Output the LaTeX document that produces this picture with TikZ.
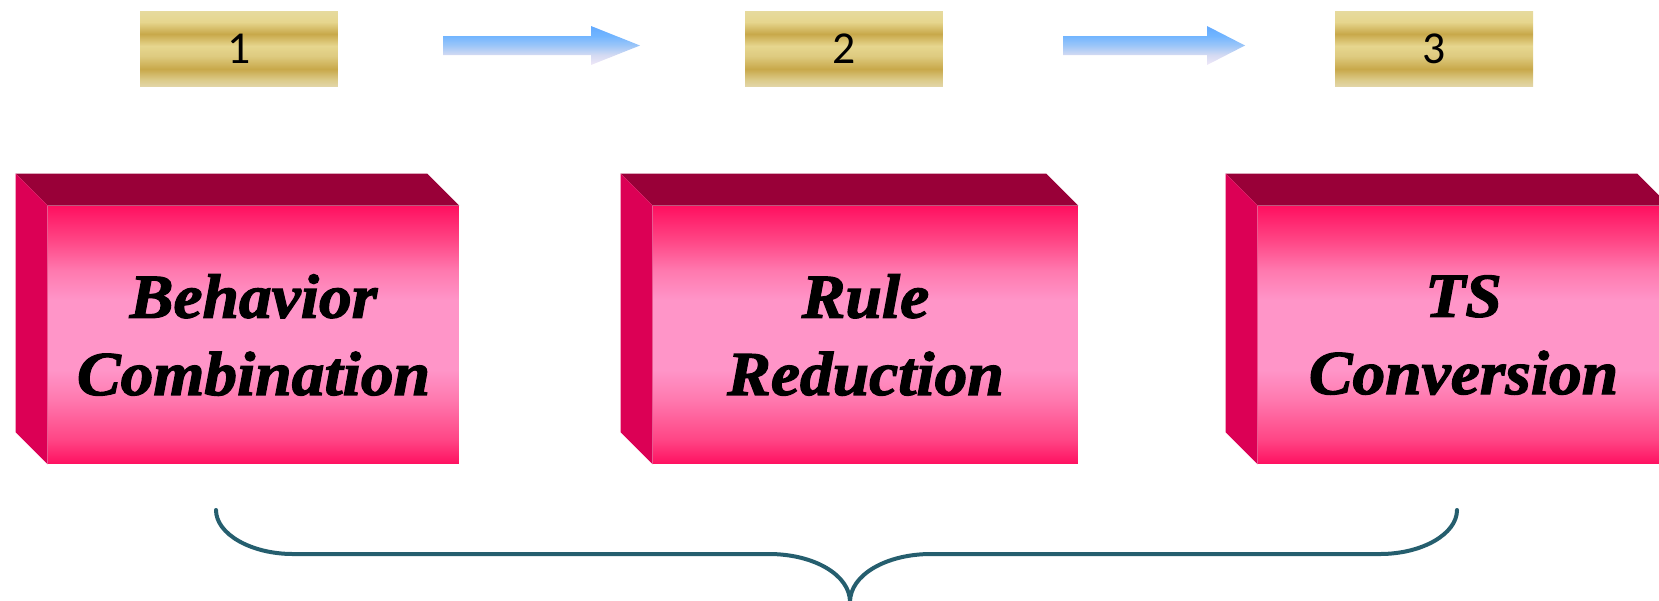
\documentclass[tikz,border=0pt]{standalone}
\usepackage{fontspec}
\usepackage{xcolor}
\usetikzlibrary{positioning}

\newfontfamily\boxfont[FakeStretch=1.05, FakeBold=2]{Liberation Serif}
\newfontfamily\numfont{Carlito}

\definecolor{faceedge}{HTML}{FF1060}
\definecolor{facea}{HTML}{FF4585}
\definecolor{faceb}{HTML}{FF78AE}
\definecolor{facemid}{HTML}{FF95C8}
\definecolor{topface}{HTML}{990038}
\definecolor{sideface}{HTML}{DC0055}
\definecolor{gold0}{HTML}{E2D5A6}
\definecolor{gold1}{HTML}{DCCB8A}
\definecolor{golddark}{HTML}{C8A84A}
\definecolor{gold2}{HTML}{DECB80}
\definecolor{goldlight}{HTML}{E6D68E}
\definecolor{gold3}{HTML}{E6DA9E}
\definecolor{arrowhead}{HTML}{62AAFF}
\definecolor{arrowtop}{HTML}{72B5FF}
\definecolor{arrowc}{HTML}{9CC6F8}
\definecolor{arrowb}{HTML}{D4DAF2}
\definecolor{arrowlow}{HTML}{F0E8F8}
\definecolor{bracecol}{HTML}{255E6E}

\pgfdeclareverticalshading{pinkface}{100bp}{color(0bp)=(faceedge); color(25bp)=(faceedge); color(29.7bp)=(facea); color(37.4bp)=(faceb); color(43.2bp)=(facemid); color(56.8bp)=(facemid); color(62.6bp)=(faceb); color(68.4bp)=(facea); color(75bp)=(faceedge); color(100bp)=(faceedge)}
\pgfdeclareverticalshading{goldband}{100bp}{color(0bp)=(gold0); color(25bp)=(gold0); color(29bp)=(gold1); color(36.3bp)=(golddark); color(45bp)=(gold2); color(51.7bp)=(goldlight); color(59.7bp)=(golddark); color(67.7bp)=(goldlight); color(75bp)=(gold3); color(100bp)=(gold3)}
\pgfdeclareverticalshading{bluearrow}{100bp}{color(0bp)=(arrowlow); color(25bp)=(arrowlow); color(37.8bp)=(arrowb); color(50bp)=(arrowc); color(62.2bp)=(arrowtop); color(75bp)=(arrowhead); color(100bp)=(arrowhead)}

\tikzset{
	face/.style={rectangle, inner sep=0pt, shade, shading=pinkface, minimum height=5.16cm, align=center, font=\boxfont\bfseries\itshape\fontsize{35.5}{44}\selectfont},
	goldbox/.style={rectangle, inner sep=0pt, shade, shading=goldband, minimum width=3.96cm, minimum height=1.5cm, font=\numfont\fontsize{26}{30}\selectfont},
	blockarrow/.style={shade, shading=bluearrow},
	brace/.style={draw=bracecol, line width=0.08cm, line cap=round}
}

\begin{document}
\begin{tikzpicture}[x=0.02cm, y=-0.02cm]
	\useasboundingbox (0,0) rectangle (1659,600);
	\clip (0,0) rectangle (1659,600);

	% step numbers
	\node[goldbox] (n1) at (239,48.5) {1};
	\node[goldbox] (n2) at (844,48.5) {2};
	\node[goldbox] (n3) at (1434,48.5) {3};

	\path[blockarrow] (443,36) -- (591,36) -- (591,26) -- (640,45.5) -- (591,65) -- (591,55) -- (443,55) -- cycle;
	\path[blockarrow] (1063,36) -- (1207,36) -- (1207,26) -- (1245,45.5) -- (1207,65) -- (1207,55) -- (1063,55) -- cycle;

	% front faces of the blocks
	\node[face, minimum width=8.22cm] (f1) at (253.5,335) {Behavior\\Combination};
	\node[face, minimum width=8.5cm] (f2) at (865.5,335) {Rule\\Reduction};
	\node[face, minimum width=8.22cm] (f3) at (1463.5,335) {TS\\Conversion};

	\fill[topface] (f1.north west) -- ++(-32,-32) -- ([shift={(-32,-32)}]f1.north east) -- (f1.north east) -- cycle;
	\fill[sideface] (f1.north west) -- ++(-32,-32) -- ([shift={(-32,-32)}]f1.south west) -- (f1.south west) -- cycle;
	\fill[topface] (f2.north west) -- ++(-32,-32) -- ([shift={(-32,-32)}]f2.north east) -- (f2.north east) -- cycle;
	\fill[sideface] (f2.north west) -- ++(-32,-32) -- ([shift={(-32,-32)}]f2.south west) -- (f2.south west) -- cycle;
	\fill[topface] (f3.north west) -- ++(-32,-32) -- ([shift={(-32,-32)}]f3.north east) -- (f3.north east) -- cycle;
	\fill[sideface] (f3.north west) -- ++(-32,-32) -- ([shift={(-32,-32)}]f3.south west) -- (f3.south west) -- cycle;

	% brace under the blocks
	\coordinate (bl) at (216,510);
	\coordinate (br) at (1457,510);
	\coordinate (bt) at (850,602);
	\draw[brace] (bl) .. controls (216,534) and (251,554) .. (293,554) -- (769,554) .. controls (814,554) and (850,575) .. (bt);
	\draw[brace] (br) .. controls (1457,534) and (1422,554) .. (1380,554) -- (931,554) .. controls (886,554) and (850,575) .. (bt);
\end{tikzpicture}
\end{document}
